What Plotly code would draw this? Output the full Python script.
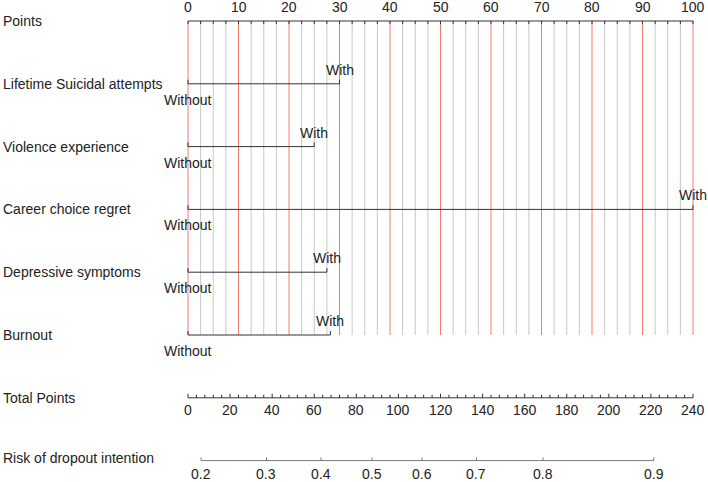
import plotly.graph_objects as go

# nomogram data
predictors = ["Lifetime Suicidal attempts", "Violence experience", "Career choice regret",
              "Depressive symptoms", "Burnout"]
with_points = [30, 25, 100, 27.5, 28.2]   # points for "With", "Without" is 0
level_labels = ["Without", "With"]

points_ticks = list(range(0, 101, 10))
total_ticks = list(range(0, 241, 20))
total_max = 240
risk_ticks = [0.2, 0.3, 0.4, 0.5, 0.6, 0.7, 0.8, 0.9]
risk_total_points = [6.2, 37.3, 63.2, 87.4, 111.2, 137.1, 168.7, 221.3]  # where each risk sits on total points

font = dict(family="Arial, Liberation Sans, sans-serif", size=14, color="#222222")
dark = "#333333"
red = "#F47A6E"
grey = "#C8C8C8"
left_x = -37.0  # row titles start near the left edge

fig = go.Figure()
annos = []

def seg(xs, ys, color, width=1):
    fig.add_trace(go.Scatter(x=xs, y=ys, mode="lines", line=dict(color=color, width=width),
                             hoverinfo="skip", showlegend=False))

def label(x, y, text, xanchor="center", yshift=0):
    annos.append(dict(x=x, y=y, xref="x", yref="y", text=text, showarrow=False,
                      xanchor=xanchor, yanchor="middle", yshift=yshift, font=font))

# row positions (row index, 0 = Points)
n_rows = len(predictors)
row_total = n_rows + 1
row_risk = n_rows + 2
tick_len = 0.05  # in row units, ~3px

# vertical reference lines every 2.5 points, red every 10
gx, gy, rx, ry = [], [], [], []
for i in range(41):
    p = i * 2.5
    if i % 4 == 0:
        rx += [p, p, None]; ry += [0, n_rows, None]
    else:
        gx += [p, p, None]; gy += [0, n_rows, None]
seg(gx, gy, grey)
seg(rx, ry, red)

# Points axis
seg([0, 100], [0, 0], dark)
tx, ty = [], []
for i in range(41):
    p = i * 2.5
    tx += [p, p, None]; ty += [0, tick_len, None]
seg(tx, ty, dark)
for p in points_ticks:
    label(p, 0, str(p), yshift=14)
label(left_x, 0, "Points", xanchor="left")

# predictor rows
for i, (name, wp) in enumerate(zip(predictors, with_points)):
    r = i + 1
    seg([0, 0, None, 0, wp, None, wp, wp], [r - 1.3 * tick_len, r, None, r, r, None, r, r - 1.3 * tick_len], dark)
    label(0, r, level_labels[0], yshift=-16)
    label(wp, r, level_labels[1], yshift=14)
    label(left_x, r, name, xanchor="left")

# Total Points axis
scale = 100 / total_max
seg([0, total_max * scale], [row_total, row_total], dark)
tx, ty = [], []
for t in range(0, total_max + 1, 4):
    ln = tick_len * (1.3 if t % 20 == 0 else 1)
    tx += [t * scale, t * scale, None]; ty += [row_total, row_total - ln, None]
seg(tx, ty, dark)
for t in total_ticks:
    label(t * scale, row_total, str(t), yshift=-12)
label(left_x, row_total, "Total Points", xanchor="left")

# Risk axis
seg([risk_total_points[0] * scale, risk_total_points[-1] * scale], [row_risk, row_risk], "#7A7A7A")
tx, ty = [], []
for tp in risk_total_points:
    tx += [tp * scale, tp * scale, None]; ty += [row_risk, row_risk - tick_len, None]
seg(tx, ty, "#7A7A7A")
for rk, tp in zip(risk_ticks, risk_total_points):
    label(tp * scale, row_risk, str(rk), yshift=-13)
label(left_x, row_risk, "Risk of dropout intention", xanchor="left", yshift=3)

fig.update_layout(
    width=708, height=482,
    margin=dict(l=0, r=0, t=0, b=0),
    paper_bgcolor="white", plot_bgcolor="white",
    annotations=annos,
    xaxis=dict(range=[-37.23, 102.97], visible=False, fixedrange=True),
    yaxis=dict(range=[7.3408, -0.3344], visible=False, fixedrange=True),
)

# page body margin off so the figure fills the window
fig.write_html("out.html", config={"displayModeBar": False},
               post_script="document.body.style.margin='0';document.body.style.overflow='hidden';")
